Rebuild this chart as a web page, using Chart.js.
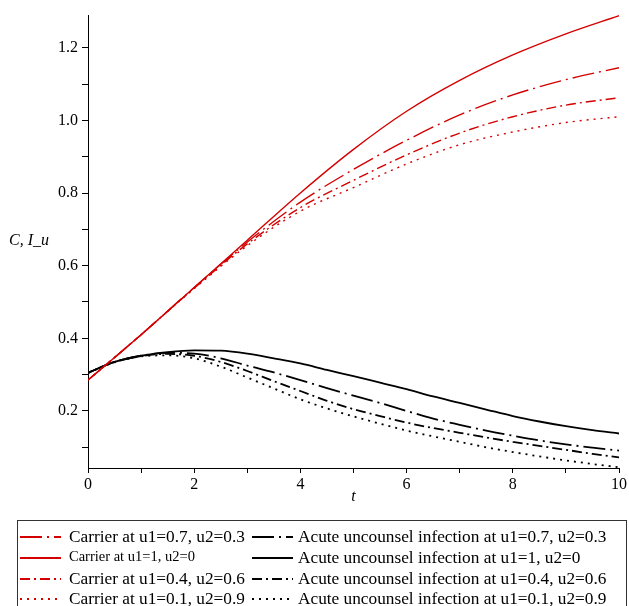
<!DOCTYPE html>
<html>
<head>
<meta charset="UTF-8" />
<title>Carrier and acute uncounselled infection</title>
<script src="https://cdn.jsdelivr.net/npm/chart.js"></script>
<style>
  body { margin: 0; background: #fff; }
  #wrap { width: 629px; height: 606px; }
</style>
</head>
<body>
<div id="wrap"><canvas id="grafico" width="629" height="606"></canvas></div>
<script>
  // time points
  const tRed = [0, 1, 2, 3, 4, 5, 6, 7, 8, 9, 10];
  const tBlack = [0, 0.5, 1, 1.5, 2, 2.5, 3, 3.5, 4, 4.5, 5, 5.5, 6, 6.5, 7, 7.5, 8, 8.5, 9, 9.5, 10];

  // Carrier C
  const carrier07 = [0.285, 0.41, 0.54, 0.665, 0.775, 0.865, 0.945, 1.015, 1.07, 1.112, 1.145];
  const carrier1  = [0.285, 0.41, 0.54, 0.67, 0.80, 0.92, 1.025, 1.11, 1.18, 1.238, 1.288];
  const carrier04 = [0.285, 0.41, 0.538, 0.66, 0.76, 0.835, 0.905, 0.965, 1.01, 1.042, 1.062];
  const carrier01 = [0.285, 0.41, 0.537, 0.655, 0.75, 0.815, 0.88, 0.933, 0.968, 0.994, 1.01];

  // Acute uncounselled infection I_u
  const acute07 = [0.305, 0.335, 0.352, 0.36, 0.358, 0.345, 0.325, 0.306, 0.285, 0.263, 0.242, 0.222, 0.2, 0.179, 0.162, 0.146, 0.132, 0.119, 0.108, 0.099, 0.091];
  const acute1  = [0.305, 0.335, 0.352, 0.362, 0.367, 0.366, 0.358, 0.345, 0.331, 0.313, 0.296, 0.278, 0.26, 0.24, 0.222, 0.204, 0.186, 0.171, 0.158, 0.147, 0.138];
  const acute04 = [0.305, 0.335, 0.351, 0.357, 0.352, 0.335, 0.31, 0.282, 0.255, 0.228, 0.205, 0.186, 0.168, 0.153, 0.14, 0.127, 0.115, 0.104, 0.093, 0.082, 0.072];
  const acute01 = [0.305, 0.334, 0.35, 0.353, 0.345, 0.322, 0.292, 0.262, 0.232, 0.207, 0.185, 0.165, 0.146, 0.13, 0.115, 0.1, 0.087, 0.075, 0.064, 0.054, 0.045];

  const xTickLabels = ['0', '2', '4', '6', '8', '10'];
  const yTickLabels = ['0.2', '0.4', '0.6', '0.8', '1.0', '1.2'];

  const rojo = '#d40000';
  const serie = (label, xs, ys, color, dash, width, small) => ({
    label,
    data: xs.map((t, i) => ({ x: t, y: ys[i] })),
    borderColor: color,
    borderWidth: width,
    borderDash: dash,
    pointRadius: 0,
    cubicInterpolationMode: 'monotone',
    fill: false,
    small: !!small
  });

  const dashLong = [22, 5, 2, 5];
  const dashDot = [10, 4, 2, 4];
  const dots = [2, 5];

  // order = legend order: left column carriers, right column acute
  const carriers = [
    serie('Carrier at u1=0.7, u2=0.3', tRed, carrier07, rojo, dashLong, 1.4),
    serie('Carrier at u1=1, u2=0', tRed, carrier1, rojo, [], 1.4, true),
    serie('Carrier at u1=0.4, u2=0.6', tRed, carrier04, rojo, dashDot, 1.4),
    serie('Carrier at u1=0.1, u2=0.9', tRed, carrier01, rojo, dots, 1.4)
  ];
  const acutes = [
    serie('Acute uncounsel infection at u1=0.7, u2=0.3', tBlack, acute07, '#000', dashLong, 1.8),
    serie('Acute uncounsel infection at u1=1, u2=0', tBlack, acute1, '#000', [], 1.8),
    serie('Acute uncounsel infection at u1=0.4, u2=0.6', tBlack, acute04, '#000', dashDot, 1.8),
    serie('Acute uncounsel infection at u1=0.1, u2=0.9', tBlack, acute01, '#000', dots, 1.8)
  ];

  const serif = "'Liberation Serif', 'DejaVu Serif', serif";

  // y label + boxed legend under the plot
  const extras = {
    id: 'extras',
    afterDraw(chart) {
      const ctx = chart.ctx;
      ctx.save();
      ctx.fillStyle = '#000';
      ctx.font = 'italic 16px ' + serif;
      ctx.textBaseline = 'middle';
      ctx.textAlign = 'left';
      ctx.fillText('C, I_u', 9, 241);

      // legend box
      ctx.strokeStyle = '#333';
      ctx.lineWidth = 1;
      ctx.strokeRect(17.5, 520.5, 609, 90);

      const filas = [537, 558, 579, 599];
      const cols = [
        { sets: carriers, x0: 20, x1: 61, tx: 69 },
        { sets: acutes, x0: 252, x1: 293, tx: 298 }
      ];
      cols.forEach(c => {
        c.sets.forEach((ds, i) => {
          const y = filas[i];
          ctx.beginPath();
          ctx.setLineDash(ds.borderDash);
          ctx.strokeStyle = ds.borderColor;
          ctx.lineWidth = 2;
          ctx.moveTo(c.x0, y);
          ctx.lineTo(c.x1, y);
          ctx.stroke();
          ctx.setLineDash([]);
          ctx.fillStyle = '#000';
          ctx.font = (ds.small ? '14.5px ' : '17.3px ') + serif;
          ctx.fillText(ds.label, c.tx, ds.small ? y - 1 : y);
        });
      });
      ctx.restore();
    }
  };

  new Chart(document.getElementById('grafico').getContext('2d'), {
    type: 'line',
    data: { datasets: [...carriers, ...acutes] },
    options: {
      responsive: false,
      animation: false,
      layout: { padding: { top: 15, right: 7, bottom: 96, left: 0 } },
      plugins: { legend: { display: false }, tooltip: { enabled: false } },
      scales: {
        x: {
          type: 'linear',
          min: 0,
          max: 10,
          afterFit: s => { s.height = 42; },
          border: { display: true, color: '#000', width: 1 },
          grid: { drawOnChartArea: false, color: '#000', tickLength: 5 },
          ticks: {
            stepSize: 1,
            maxRotation: 0,
            autoSkip: false,
            padding: 2,
            color: '#000',
            font: { family: serif, size: 16 },
            callback: v => (v % 2 === 0 ? xTickLabels[v / 2] : '')
          },
          title: {
            display: true,
            text: 't',
            color: '#000',
            padding: { top: 0, bottom: 4 },
            font: { family: serif, size: 16, style: 'italic' }
          }
        },
        y: {
          type: 'linear',
          min: 0.043,
          max: 1.29,
          afterFit: s => { s.width = 88; },
          border: { display: true, color: '#000', width: 1 },
          grid: { drawOnChartArea: false, color: '#000', tickLength: 6 },
          ticks: {
            stepSize: 0.1,
            includeBounds: false,
            autoSkip: false,
            padding: 4,
            color: '#000',
            font: { family: serif, size: 16 },
            callback: v => {
              const k = Math.round(v * 10);
              return k % 2 === 0 ? yTickLabels[k / 2 - 1] : '';
            }
          }
        }
      }
    },
    plugins: [extras]
  });
</script>
</body>
</html>
